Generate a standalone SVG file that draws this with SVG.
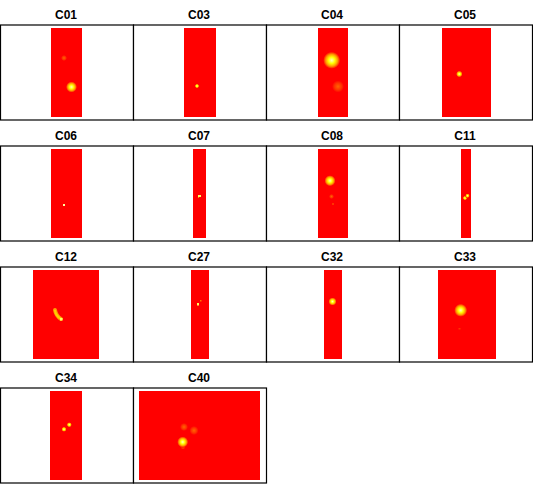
<svg xmlns="http://www.w3.org/2000/svg" width="533" height="484" viewBox="0 0 533 484">
<defs>
<radialGradient id="hot"><stop offset="0" stop-color="#FFFFC0"/><stop offset="0.38" stop-color="#FFFF00"/><stop offset="0.7" stop-color="#FF9900"/><stop offset="1" stop-color="#FF0000"/></radialGradient>
<radialGradient id="faint"><stop offset="0" stop-color="#FF6600"/><stop offset="0.6" stop-color="#FF3300"/><stop offset="1" stop-color="#FF0000"/></radialGradient>
</defs>
<style>
.box{fill:#fff;stroke:#000;stroke-width:1.2}
.map{fill:#FF0000}
.t{font-family:"Liberation Sans",Arial,sans-serif;font-weight:bold;font-size:12px;text-anchor:middle;fill:#000}
.h{fill:url(#hot)}
.f{fill:url(#faint)}
.d{fill:#FFFF60}
</style>
<rect width="533" height="484" fill="#fff"/>
<g id="C01"><rect class="box" x="0.5" y="25" width="133" height="95"/><text class="t" x="66" y="19">C01</text><rect class="map" x="51" y="28" width="31" height="89"/><circle class="f" cx="64" cy="58" r="3"/><circle class="h" cx="71.5" cy="87" r="5.5"/></g>
<g id="C03"><rect class="box" x="133.5" y="25" width="133" height="95"/><text class="t" x="199" y="19">C03</text><rect class="map" x="184" y="28" width="32" height="89"/><circle class="h" cx="197" cy="86" r="2.2"/></g>
<g id="C04"><rect class="box" x="266.5" y="25" width="133" height="95"/><text class="t" x="332" y="19">C04</text><rect class="map" x="318" y="28" width="30" height="89"/><circle class="h" cx="331.7" cy="60.3" r="8.5"/><circle class="f" cx="338" cy="86.5" r="6"/></g>
<g id="C05"><rect class="box" x="399.5" y="25" width="133" height="95"/><text class="t" x="465" y="19">C05</text><rect class="map" x="442" y="28" width="49" height="89"/><circle class="h" cx="459.3" cy="74" r="3.2"/></g>
<g id="C06"><rect class="box" x="0.5" y="146" width="133" height="95"/><text class="t" x="66" y="140">C06</text><rect class="map" x="51" y="149" width="31" height="89"/><rect x="63" y="204" width="2" height="2" fill="#FFFFA0"/></g>
<g id="C07"><rect class="box" x="133.5" y="146" width="133" height="95"/><text class="t" x="199" y="140">C07</text><rect class="map" x="193" y="149" width="13" height="89"/><rect class="d" x="198" y="195" width="3" height="2"/><rect x="198" y="197" width="1" height="1" fill="#FF9900"/></g>
<g id="C08"><rect class="box" x="266.5" y="146" width="133" height="95"/><text class="t" x="332" y="140">C08</text><rect class="map" x="318" y="149" width="30" height="89"/><circle class="h" cx="330" cy="180.7" r="5.5"/><circle class="f" cx="331.5" cy="196.5" r="2.5"/><rect x="332" y="203" width="2" height="2" fill="#FF3300"/></g>
<g id="C11"><rect class="box" x="399.5" y="146" width="133" height="95"/><text class="t" x="465" y="140">C11</text><rect class="map" x="461" y="149" width="10" height="89"/><circle class="h" cx="465" cy="198" r="2.2"/><circle class="h" cx="467.5" cy="195.7" r="2.2"/></g>
<g id="C12"><rect class="box" x="0.5" y="267" width="133" height="95"/><text class="t" x="66" y="261">C12</text><rect class="map" x="33" y="270" width="66" height="89"/><path d="M55,310 Q56,316 61,319" stroke="#FF9900" stroke-width="4" fill="none" stroke-linecap="round"/><path d="M55,310.5 Q56,316 60.5,318.5" stroke="#FFD000" stroke-width="2" fill="none" stroke-linecap="round"/><rect x="60" y="318" width="2.5" height="2.5" fill="#FFFF60"/></g>
<g id="C27"><rect class="box" x="133.5" y="267" width="133" height="95"/><text class="t" x="199" y="261">C27</text><rect class="map" x="191" y="270" width="18" height="89"/><rect class="d" x="197" y="303" width="2" height="2.5"/><rect x="200" y="300" width="1.5" height="1.5" fill="#FF7700"/></g>
<g id="C32"><rect class="box" x="266.5" y="267" width="133" height="95"/><text class="t" x="332" y="261">C32</text><rect class="map" x="324" y="270" width="18" height="89"/><circle class="h" cx="332.5" cy="301.5" r="4"/></g>
<g id="C33"><rect class="box" x="399.5" y="267" width="133" height="95"/><text class="t" x="465" y="261">C33</text><rect class="map" x="438" y="270" width="58" height="89"/><circle class="h" cx="460.7" cy="310.3" r="6.5"/><rect x="458.5" y="328" width="2" height="1.5" fill="#FF3300"/></g>
<g id="C34"><rect class="box" x="0.5" y="388" width="133" height="95"/><text class="t" x="66" y="382">C34</text><rect class="map" x="50" y="391" width="32" height="89"/><circle class="h" cx="64" cy="429.3" r="2.5"/><circle class="h" cx="69.3" cy="424.7" r="2.5"/></g>
<g id="C40"><rect class="box" x="133.5" y="388" width="133" height="95"/><text class="t" x="199" y="382">C40</text><rect class="map" x="139" y="391" width="121" height="89"/><circle class="f" cx="184" cy="427" r="4"/><circle class="f" cx="194" cy="430.5" r="4.5"/><circle class="f" cx="183" cy="447" r="2.5"/><circle class="h" cx="182.7" cy="442" r="5.5"/></g>
</svg>
